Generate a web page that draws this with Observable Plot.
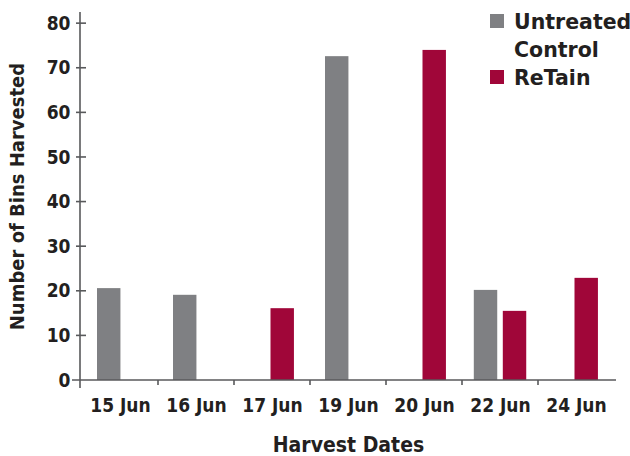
<!DOCTYPE html>
<html>
<head>
<meta charset="utf-8">
<script src="https://cdn.jsdelivr.net/npm/d3@7"></script>
<script src="https://cdn.jsdelivr.net/npm/@observablehq/plot@0.6"></script>
<style>
  html, body { margin: 0; padding: 0; background: #fff; }
  #wrap { position: relative; width: 630px; height: 456px; }
  #legend { position: absolute; left: 490px; top: 8px; font-family: "DejaVu Sans", sans-serif; font-weight: bold; font-size: 20.5px; color: #231f20; line-height: 28px; }
  .item { position: relative; padding-left: 24px; }
  .sw { position: absolute; left: 0; top: 6px; width: 14px; height: 14px; }
</style>
</head>
<body>
<div id="wrap"><div id="legend"></div></div>
<script>
const dates = ["15 Jun", "16 Jun", "17 Jun", "19 Jun", "20 Jun", "22 Jun", "24 Jun"];
const series = ["Untreated Control", "ReTain"];
const legendLines = [["Untreated", "Control"], ["ReTain"]];
const colors = ["#7f8083", "#a00639"];
const control = [20.6, 19.1, null, 72.6, null, 20.2, null];
const retain = [null, null, 16.1, null, 74.0, 15.5, 22.9];
const yTicks = [0, 10, 20, 30, 40, 50, 60, 70, 80];
const yTitle = "Number of Bins Harvested";
const xTitle = "Harvest Dates";

const rows = [];
dates.forEach((d, i) => {
  const paired = control[i] != null && retain[i] != null;
  if (control[i] != null) rows.push({date: d, series: series[0], value: control[i], paired});
  if (retain[i] != null) rows.push({date: d, series: series[1], value: retain[i], paired});
});

const axisColor = "#58595b";
const textColor = "#231f20";
const bw = (630 - 80 - 14) / dates.length;

function bars(s, paired, left, width) {
  return Plot.barY(rows.filter(r => r.series === s && r.paired === paired), {
    x: "date", y: "value", fill: "series",
    insetLeft: left, insetRight: bw - left - width
  });
}

const axes = (index, {x, y}, values, dims) => {
  const g = d3.create("svg:g").attr("stroke", axisColor).attr("stroke-width", 1.6).attr("fill", "none");
  const x0 = dims.marginLeft, x1 = dims.width - dims.marginRight;
  const y0 = y(0);
  g.append("line").attr("x1", x0).attr("x2", x0).attr("y1", dims.marginTop).attr("y2", y0 + 8);
  g.append("line").attr("x1", x0 - 8).attr("x2", x1).attr("y1", y0).attr("y2", y0);
  dates.slice(1).forEach(d => {
    const xx = x(d);
    g.append("line").attr("x1", xx).attr("x2", xx).attr("y1", y0).attr("y2", y0 + 5);
  });
  yTicks.slice(1).forEach(v => {
    g.append("line").attr("x1", x0 - 4).attr("x2", x0 + 6).attr("y1", y(v)).attr("y2", y(v));
  });
  return g.node();
};

const chart = Plot.plot({
  width: 630,
  height: 456,
  marginLeft: 80,
  marginRight: 14,
  marginTop: 12,
  marginBottom: 76,
  style: {fontFamily: "'DejaVu Sans Condensed', 'DejaVu Sans', sans-serif", color: textColor, background: "#fff"},
  x: {domain: dates, padding: 0, label: null},
  y: {domain: [0, 82.5], label: null},
  color: {domain: series, range: colors},
  marks: [
    bars(series[0], false, 15, 24),
    bars(series[1], false, 36.5, 24),
    bars(series[0], true, 11.8, 24),
    bars(series[1], true, 40.8, 24),
    Plot.axisX({tickSize: 0, tickPadding: 18, fontSize: 19, fontWeight: "bold", fill: textColor, label: null}),
    Plot.axisY({ticks: yTicks, tickSize: 0, tickPadding: 10, fontSize: 19, fontWeight: "bold", fill: textColor, label: null, tickFormat: d => String(d)}),
    axes,
    Plot.text([yTitle], {frameAnchor: "left", textAnchor: "middle", lineAnchor: "middle", rotate: -90, dx: -63, fontSize: 20, fontWeight: "bold", fill: textColor, text: d => d}),
    Plot.text([xTitle], {frameAnchor: "bottom", textAnchor: "middle", lineAnchor: "middle", dy: 65, fontSize: 21, fontWeight: "bold", fill: textColor, text: d => d})
  ]
});
document.getElementById("wrap").prepend(chart);

const legend = document.getElementById("legend");
series.forEach((s, i) => {
  const item = document.createElement("div");
  item.className = "item";
  const sw = document.createElement("span");
  sw.className = "sw";
  sw.style.background = colors[i];
  item.appendChild(sw);
  legendLines[i].forEach((t, j) => {
    const line = document.createElement("div");
    line.textContent = t;
    item.appendChild(line);
  });
  legend.appendChild(item);
});
</script>
</body>
</html>
